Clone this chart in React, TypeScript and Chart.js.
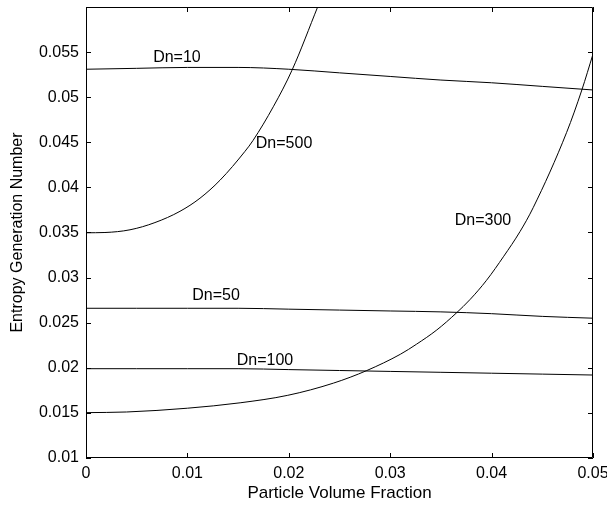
import React, { useEffect, useRef } from "react";
import { Chart, registerables } from "chart.js";

Chart.register(...registerables);

// ---- data ----
const xGrid = [0, 0.005, 0.01, 0.015, 0.02, 0.025, 0.03, 0.035, 0.04, 0.045, 0.05];
const dn10 = [0.0531, 0.0532, 0.0533, 0.0533, 0.0531, 0.0527, 0.0523, 0.0519, 0.0516, 0.0512, 0.0508];
const dn50 = [0.0266, 0.0266, 0.0266, 0.0266, 0.0265, 0.0264, 0.0263, 0.0262, 0.026, 0.0257, 0.0255];
const dn100 = [0.0199, 0.0199, 0.0199, 0.0199, 0.0198, 0.0197, 0.0196, 0.0195, 0.0194, 0.0193, 0.0192];

const dn300X = [0, 0.004, 0.01, 0.0152, 0.0199, 0.0244, 0.0277, 0.031, 0.0326, 0.0346, 0.0365, 0.0379, 0.0395, 0.0412, 0.0428, 0.0441, 0.0474, 0.0489, 0.05];
const dn300Y = [0.01503, 0.0151, 0.01552, 0.01612, 0.01695, 0.0183, 0.0197, 0.0215, 0.02262, 0.0242, 0.02605, 0.0276, 0.0297, 0.03237, 0.0351, 0.03775, 0.0461, 0.0508, 0.05478];

const dn500X = [0, 0.00187, 0.00434, 0.0068, 0.00927, 0.01124, 0.01322, 0.01568, 0.01647, 0.0185, 0.02032, 0.02288];
const dn500Y = [0.03497, 0.035, 0.0353, 0.0361, 0.03735, 0.0388, 0.0408, 0.044, 0.0452, 0.049, 0.053, 0.0601];

const xTicks = [0, 0.01, 0.02, 0.03, 0.04, 0.05];
const yTicks = [0.01, 0.015, 0.02, 0.025, 0.03, 0.035, 0.04, 0.045, 0.05, 0.055];

const labelText = ["Dn=10", "Dn=500", "Dn=300", "Dn=50", "Dn=100"];
const labelX = [0.00897, 0.01953, 0.03915, 0.01282, 0.01765];
const labelY = [0.05444, 0.04489, 0.03633, 0.028, 0.02078];

const xTitle = "Particle Volume Fraction";
const yTitle = "Entropy Generation Number";

const FONT = "'Liberation Sans', Arial, sans-serif";

const pts = (xs: number[], ys: number[]) => xs.map((x, i) => ({ x, y: ys[i] }));

const fmt = (v: number) => String(+Number(v).toFixed(3));

const framePlugin = {
  id: "frame",
  afterDraw(chart: any) {
    const { ctx, chartArea: a, scales } = chart;
    ctx.save();
    ctx.strokeStyle = "#000";
    ctx.lineWidth = 1;
    ctx.beginPath();
    ctx.rect(a.left + 0.5, a.top + 0.5, a.right - a.left - 1, a.bottom - a.top - 1);
    const L = 5;
    for (const t of scales.x.ticks) {
      const p = Math.round(scales.x.getPixelForValue(t.value)) + 0.5;
      ctx.moveTo(p, a.bottom);
      ctx.lineTo(p, a.bottom - L);
      ctx.moveTo(p, a.top);
      ctx.lineTo(p, a.top + L);
    }
    for (const t of scales.y.ticks) {
      const p = Math.round(scales.y.getPixelForValue(t.value)) + 0.5;
      ctx.moveTo(a.left, p);
      ctx.lineTo(a.left + L, p);
      ctx.moveTo(a.right, p);
      ctx.lineTo(a.right - L, p);
    }
    ctx.stroke();
    ctx.restore();
  },
  afterDatasetsDraw(chart: any) {
    const { ctx, scales } = chart;
    ctx.save();
    ctx.fillStyle = "#000";
    ctx.font = `16px ${FONT}`;
    ctx.textAlign = "center";
    ctx.textBaseline = "middle";
    labelText.forEach((t, i) => {
      ctx.fillText(t, scales.x.getPixelForValue(labelX[i]), scales.y.getPixelForValue(labelY[i]));
    });
    ctx.restore();
  },
};

export default function App() {
  const ref = useRef<HTMLCanvasElement>(null);
  useEffect(() => {
    if (!ref.current) return;
    const line = (data: any[]) => ({
      data,
      showLine: true,
      borderColor: "#000",
      borderWidth: 1,
      pointRadius: 0,
      cubicInterpolationMode: "monotone" as const,
      fill: false,
    });
    const chart = new Chart(ref.current, {
      type: "scatter",
      data: {
        datasets: [
          line(pts(xGrid, dn10)),
          line(pts(xGrid, dn50)),
          line(pts(xGrid, dn100)),
          line(pts(dn300X, dn300Y)),
          line(pts(dn500X, dn500Y)),
        ],
      },
      options: {
        animation: false,
        responsive: false,
        devicePixelRatio: 1,
        layout: { padding: { left: 0, top: 7, right: 14, bottom: 0 } },
        plugins: { legend: { display: false }, tooltip: { enabled: false } },
        scales: {
          x: {
            type: "linear",
            min: 0,
            max: 0.05,
            grid: { display: false, drawTicks: false },
            border: { display: false },
            afterBuildTicks: (s: any) => {
              s.ticks = xTicks.map((v) => ({ value: v }));
            },
            afterFit: (s: any) => {
              s.height = 47;
              s.paddingLeft = 0;
              s.paddingRight = 0;
            },
            ticks: {
              color: "#000",
              font: { family: FONT, size: 16 },
              padding: 6,
              maxRotation: 0,
              autoSkip: false,
              callback: (v: any) => fmt(v),
            },
            title: {
              display: true,
              text: xTitle,
              color: "#000",
              font: { family: FONT, size: 17 },
              padding: { top: 0, bottom: 1 },
            },
          },
          y: {
            type: "linear",
            min: 0.01,
            max: 0.06,
            grid: { display: false, drawTicks: false },
            border: { display: false },
            afterBuildTicks: (s: any) => {
              s.ticks = yTicks.map((v) => ({ value: v }));
            },
            afterFit: (s: any) => {
              s.width = 86;
              s.paddingTop = 0;
              s.paddingBottom = 0;
            },
            ticks: {
              color: "#000",
              font: { family: FONT, size: 16 },
              padding: 7,
              autoSkip: false,
              callback: (v: any) => fmt(v),
            },
            title: {
              display: true,
              text: yTitle,
              color: "#000",
              font: { family: FONT, size: 16 },
              padding: { top: 8, bottom: 0 },
            },
          },
        },
      },
      plugins: [framePlugin],
    });
    return () => chart.destroy();
  }, []);
  return (
    <div style={{ position: "fixed", left: 0, top: 0, width: 607, height: 505, background: "#fff" }}>
      <canvas ref={ref} width={607} height={505} style={{ display: "block" }} />
    </div>
  );
}
